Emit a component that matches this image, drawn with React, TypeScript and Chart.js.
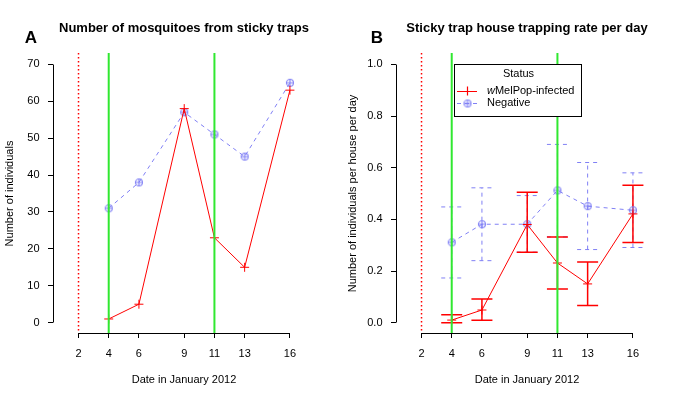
import React, { useEffect, useRef } from 'react';
import { Chart, registerables } from 'chart.js';

Chart.register(...registerables);

// ---------- data ----------
const dates = [4, 6, 9, 11, 13, 16];
const xTicks = [2, 4, 6, 9, 11, 13, 16];
const releaseDates = [4, 11];
const startDates = [2];

const countInfected = [1, 5, 58, 23, 15, 63];
const countNegative = [31, 38, 57, 51, 45, 65];
const countTicks = [0, 10, 20, 30, 40, 50, 60, 70];

const rateInfected = [0.01, 0.049, 0.38, 0.231, 0.15, 0.421];
const rateInfectedLo = [0.0, 0.009, 0.273, 0.13, 0.066, 0.31];
const rateInfectedHi = [0.031, 0.092, 0.505, 0.332, 0.235, 0.532];
const rateNegative = [0.311, 0.381, 0.381, 0.512, 0.451, 0.435];
const rateNegativeLo = [0.173, 0.24, 0.273, 0.332, 0.283, 0.291];
const rateNegativeHi = [0.448, 0.522, 0.492, 0.69, 0.62, 0.58];
const rateTicks = [0, 0.2, 0.4, 0.6, 0.8, 1.0];

// ---------- style ----------
const FONT = "'Liberation Sans', Arial, Helvetica, sans-serif";
const RED = '#FF0000';
const BLUE = '#8080F5';
const GREEN = '#30E830';
const W = 342;
const H = 401;
const X_MIN = 0.31;
const X_MAX = 17.66;

function makeCrossCircle(color: string, r: number): HTMLCanvasElement {
  const size = Math.ceil(r * 2 + 3);
  const c = document.createElement('canvas');
  c.width = size;
  c.height = size;
  const ctx = c.getContext('2d')!;
  const m = size / 2;
  ctx.strokeStyle = color;
  ctx.lineWidth = 1.1;
  ctx.beginPath();
  ctx.arc(m, m, r, 0, Math.PI * 2);
  ctx.stroke();
  ctx.beginPath();
  ctx.moveTo(m - r, m);
  ctx.lineTo(m + r, m);
  ctx.moveTo(m, m - r);
  ctx.lineTo(m, m + r);
  ctx.stroke();
  return c;
}

type Panel = {
  title: string;
  letter: string;
  yTitle: string;
  yTicks: number[];
  yMin: number;
  yMax: number;
  infected: number[];
  negative: number[];
  errors?: { lo: number[]; hi: number[]; color: string; dash: number[]; width: number }[];
  legend: boolean;
  fmt: (v: number) => string;
};

const align = (v: number) => Math.round(v - 0.5) + 0.5;

function buildChart(canvas: HTMLCanvasElement, p: Panel) {
  const crossCircle = makeCrossCircle(BLUE, 3.5);

  const drawRefLines = (chart: any) => {
    const { ctx, chartArea, scales } = chart;
    ctx.save();
    ctx.strokeStyle = GREEN;
    ctx.lineWidth = 2;
    for (const d of releaseDates) {
      const px = scales.x.getPixelForValue(d);
      ctx.beginPath();
      ctx.moveTo(px, chartArea.top - 1);
      ctx.lineTo(px, chartArea.bottom);
      ctx.stroke();
    }
    ctx.strokeStyle = RED;
    ctx.lineWidth = 1.5;
    ctx.setLineDash([1.5, 2.5]);
    for (const d of startDates) {
      const px = scales.x.getPixelForValue(d);
      ctx.beginPath();
      ctx.moveTo(px, chartArea.top - 1);
      ctx.lineTo(px, chartArea.bottom);
      ctx.stroke();
    }
    ctx.restore();
  };

  const drawErrors = (chart: any) => {
    if (!p.errors) return;
    const { ctx, scales } = chart;
    ctx.save();
    for (const e of p.errors) {
      ctx.strokeStyle = e.color;
      ctx.lineWidth = e.width;
      ctx.setLineDash(e.dash);
      dates.forEach((d, i) => {
        const px = scales.x.getPixelForValue(d);
        const pl = scales.y.getPixelForValue(e.lo[i]);
        const ph = scales.y.getPixelForValue(e.hi[i]);
        ctx.beginPath();
        ctx.moveTo(px, pl);
        ctx.lineTo(px, ph);
        ctx.moveTo(px - 10.5, pl);
        ctx.lineTo(px + 10.5, pl);
        ctx.moveTo(px - 10.5, ph);
        ctx.lineTo(px + 10.5, ph);
        ctx.stroke();
      });
    }
    ctx.restore();
  };

  const drawAxes = (chart: any) => {
    const { ctx, chartArea, scales } = chart;
    ctx.save();
    ctx.strokeStyle = '#000';
    ctx.lineWidth = 1;
    const xl = align(chartArea.left);
    ctx.beginPath();
    ctx.moveTo(xl, align(scales.y.getPixelForValue(p.yTicks[0])));
    ctx.lineTo(xl, align(scales.y.getPixelForValue(p.yTicks[p.yTicks.length - 1])));
    ctx.stroke();
    const yb = align(chartArea.bottom);
    ctx.beginPath();
    ctx.moveTo(align(scales.x.getPixelForValue(xTicks[0])), yb);
    ctx.lineTo(align(scales.x.getPixelForValue(xTicks[xTicks.length - 1])), yb);
    ctx.stroke();
    ctx.restore();
  };

  const drawTitles = (chart: any) => {
    const { ctx, chartArea } = chart;
    ctx.save();
    ctx.fillStyle = '#000';
    ctx.textAlign = 'center';
    ctx.textBaseline = 'middle';
    ctx.font = `bold 13px ${FONT}`;
    ctx.fillText(p.title, (chartArea.left + chartArea.right) / 2, 28);
    ctx.font = `bold 17px ${FONT}`;
    ctx.fillText(p.letter, p.letter === 'A' ? 31 : 34, 38);
    ctx.restore();
  };

  const drawLegend = (chart: any) => {
    const { ctx, scales } = chart;
    const L = Math.round(scales.x.getPixelForValue(4)) + 2;
    const T = Math.round(scales.y.getPixelForValue(1.0));
    const BW = 127;
    const BH = 52;
    ctx.save();
    ctx.fillStyle = '#fff';
    ctx.fillRect(L, T, BW, BH);
    ctx.strokeStyle = '#000';
    ctx.lineWidth = 1;
    ctx.strokeRect(L + 0.5, T + 0.5, BW, BH);
    ctx.fillStyle = '#000';
    ctx.font = `11px ${FONT}`;
    ctx.textBaseline = 'middle';
    ctx.textAlign = 'center';
    ctx.fillText('Status', L + BW / 2 + 1, T + 10);
    // row 1
    const y1 = T + 27;
    ctx.strokeStyle = RED;
    ctx.lineWidth = 1.2;
    ctx.beginPath();
    ctx.moveTo(L + 3, y1 + 0.5);
    ctx.lineTo(L + 23, y1 + 0.5);
    ctx.moveTo(L + 13.5, y1 - 4.5);
    ctx.lineTo(L + 13.5, y1 + 4.5);
    ctx.stroke();
    ctx.lineWidth = 1;
    ctx.textAlign = 'left';
    ctx.font = `italic 11px ${FONT}`;
    ctx.fillText('w', L + 33, y1);
    const ww = ctx.measureText('w').width;
    ctx.font = `11px ${FONT}`;
    ctx.fillText('MelPop-infected', L + 33 + ww, y1);
    // row 2
    const y2 = T + 39;
    ctx.strokeStyle = BLUE;
    ctx.setLineDash([4, 4]);
    ctx.beginPath();
    ctx.moveTo(L + 3, y2 + 0.5);
    ctx.lineTo(L + 23, y2 + 0.5);
    ctx.stroke();
    ctx.setLineDash([]);
    ctx.drawImage(crossCircle, L + 13.5 - crossCircle.width / 2, y2 + 0.5 - crossCircle.height / 2);
    ctx.fillText('Negative', L + 33, y2);
    ctx.restore();
  };

  const plugin = {
    id: 'rstyle',
    beforeDatasetsDraw(chart: any) {
      drawErrors(chart);
    },
    afterDatasetsDraw(chart: any) {
      drawRefLines(chart);
    },
    afterDraw(chart: any) {
      drawAxes(chart);
      drawTitles(chart);
      if (p.legend) drawLegend(chart);
    },
  };

  const tickFont = { size: 11, family: FONT };

  return new Chart(canvas, {
    type: 'line',
    data: {
      datasets: [
        {
          label: 'wMelPop-infected',
          data: dates.map((d, i) => ({ x: d, y: p.infected[i] })),
          borderColor: RED,
          borderWidth: 1,
          pointStyle: 'cross',
          pointRadius: 4.5,
          pointBorderColor: RED,
          pointBorderWidth: 1,
          tension: 0,
          fill: false,
        },
        {
          label: 'Negative',
          data: dates.map((d, i) => ({ x: d, y: p.negative[i] })),
          borderColor: BLUE,
          borderWidth: 1,
          borderDash: [4, 4],
          pointStyle: crossCircle,
          pointRadius: 4,
          tension: 0,
          fill: false,
        },
      ],
    },
    options: {
      responsive: false,
      animation: false,
      events: [],
      layout: { padding: { left: 0, right: 27, top: 54, bottom: 0 } },
      plugins: {
        legend: { display: false },
        tooltip: { enabled: false },
        title: { display: false },
      },
      scales: {
        x: {
          type: 'linear',
          min: X_MIN,
          max: X_MAX,
          afterBuildTicks: (s: any) => {
            s.ticks = xTicks.map((v) => ({ value: v }));
          },
          afterFit: (s: any) => {
            s.height = 68;
          },
          grid: { drawOnChartArea: false, drawTicks: true, tickLength: 5, color: '#000', lineWidth: 1 },
          border: { display: false },
          ticks: {
            autoSkip: false,
            maxRotation: 0,
            minRotation: 0,
            padding: 9,
            color: '#000',
            font: tickFont,
            callback: (v: any) => String(v),
          },
          title: {
            display: true,
            text: 'Date in January 2012',
            color: '#000',
            font: tickFont,
            padding: { top: 0, bottom: 14.4 },
          },
        },
        y: {
          type: 'linear',
          min: p.yMin,
          max: p.yMax,
          afterBuildTicks: (s: any) => {
            s.ticks = p.yTicks.map((v) => ({ value: v }));
          },
          afterFit: (s: any) => {
            s.width = 53;
          },
          grid: { drawOnChartArea: false, drawTicks: true, tickLength: 5, color: '#000', lineWidth: 1 },
          border: { display: false },
          ticks: {
            padding: 8.5,
            color: '#000',
            font: tickFont,
            callback: (v: any) => p.fmt(Number(v)),
          },
          title: {
            display: true,
            text: p.yTitle,
            color: '#000',
            font: tickFont,
            padding: { top: 3.4, bottom: 0 },
          },
        },
      },
    },
    plugins: [plugin],
  } as any);
}

const panelA: Panel = {
  title: 'Number of mosquitoes from sticky traps',
  letter: 'A',
  yTitle: 'Number of individuals',
  yTicks: countTicks,
  yMin: -2.8,
  yMax: 72.8,
  infected: countInfected,
  negative: countNegative,
  legend: false,
  fmt: (v) => String(Math.round(v)),
};

const panelB: Panel = {
  title: 'Sticky trap house trapping rate per day',
  letter: 'B',
  yTitle: 'Number of individuals per house per day',
  yTicks: rateTicks,
  yMin: -0.04,
  yMax: 1.04,
  infected: rateInfected,
  negative: rateNegative,
  errors: [
    { lo: rateNegativeLo, hi: rateNegativeHi, color: BLUE, dash: [4, 4], width: 1 },
    { lo: rateInfectedLo, hi: rateInfectedHi, color: RED, dash: [], width: 1.5 },
  ],
  legend: true,
  fmt: (v) => v.toFixed(1),
};

function PanelChart({ panel }: { panel: Panel }) {
  const ref = useRef<HTMLCanvasElement | null>(null);
  useEffect(() => {
    if (!ref.current) return;
    const chart = buildChart(ref.current, panel);
    return () => chart.destroy();
  }, [panel]);
  return <canvas ref={ref} width={W} height={H} style={{ width: W, height: H, display: 'block' }} />;
}

export default function App() {
  return (
    <div style={{ position: 'fixed', left: 0, top: 0, width: 685, height: 401, background: '#fff' }}>
      <div style={{ position: 'absolute', left: 0, top: 0 }}>
        <PanelChart panel={panelA} />
      </div>
      <div style={{ position: 'absolute', left: 343, top: 0 }}>
        <PanelChart panel={panelB} />
      </div>
    </div>
  );
}
